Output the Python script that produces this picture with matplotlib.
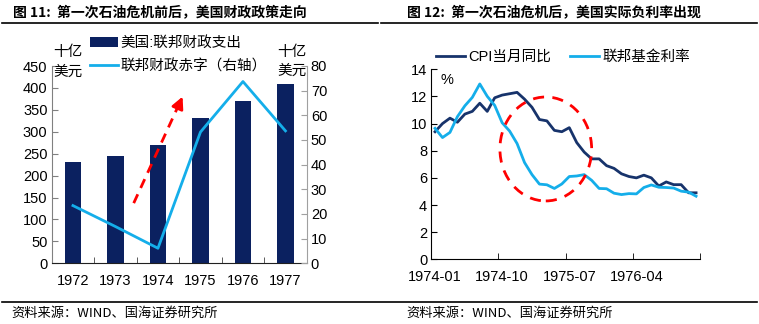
import numpy as np
import matplotlib
matplotlib.use('Agg')
import matplotlib.pyplot as plt
from matplotlib.patches import Ellipse
from matplotlib.lines import Line2D

plt.rcParams['font.family'] = ['Liberation Sans', 'Noto Sans CJK SC', 'DejaVu Sans']
plt.rcParams['axes.unicode_minus'] = False

# left panel data
years = ['1972', '1973', '1974', '1975', '1976', '1977']
spending = [230, 245, 269, 332, 371, 409]
deficit = [23.4, 14.9, 6.1, 53.2, 73.7, 53.7]

# right panel data, monthly 1974-01 .. 1976-12
months = [f'{y}-{m:02d}' for y in (1974, 1975, 1976) for m in range(1, 13)]
cpi = [9.4, 10.0, 10.4, 10.1, 10.7, 10.9, 11.5, 10.9, 11.9, 12.1, 12.2, 12.3,
       11.8, 11.2, 10.3, 10.2, 9.5, 9.4, 9.7, 8.6, 7.9, 7.4, 7.4, 6.9,
       6.7, 6.3, 6.1, 6.0, 6.2, 6.0, 5.4, 5.7, 5.5, 5.5, 4.9, 4.9]
fed_funds = [9.65, 8.97, 9.35, 10.51, 11.31, 11.93, 12.92, 12.01, 11.34, 10.06, 9.45, 8.53,
             7.13, 6.24, 5.54, 5.49, 5.22, 5.55, 6.10, 6.14, 6.24, 5.82, 5.22, 5.20,
             4.87, 4.77, 4.84, 4.82, 5.29, 5.48, 5.31, 5.29, 5.25, 5.02, 4.95, 4.65]

NAVY = '#0B2160'
CPI_COL = '#17336B'
LIGHT = '#14AEEA'
FS = 10.5

W, H = 759, 324
fig = plt.figure(figsize=(W / 100, H / 100), dpi=100)


def fx(px):
    return px / W


def fy(py):
    return 1 - py / H


# titles and rules
fig.text(fx(13), fy(12), '图 11:  第一次石油危机前后，美国财政政策走向', fontsize=10,
         fontweight='bold', va='center', ha='left', family=['Noto Sans CJK SC'])
fig.text(fx(407), fy(12), '图 12:  第一次石油危机后，美国实际负利率出现', fontsize=10,
         fontweight='bold', va='center', ha='left', family=['Noto Sans CJK SC'])
fig.add_artist(Line2D([fx(2), fx(378)], [fy(22.5), fy(22.5)], color='black', lw=1.2))
fig.add_artist(Line2D([fx(381), fx(757)], [fy(22.5), fy(22.5)], color='black', lw=1.2))
fig.add_artist(Line2D([fx(2), fx(757)], [fy(302), fy(302)], color='black', lw=1.2))
fig.text(fx(11), fy(313), '资料来源：WIND、国海证券研究所', fontsize=9.5, va='center',
         family=['Noto Sans CJK SC'])
fig.text(fx(406), fy(313), '资料来源：WIND、国海证券研究所', fontsize=9.5, va='center',
         family=['Noto Sans CJK SC'])

# ---- left panel ----
ax = fig.add_axes([fx(51.7), fy(263.3), fx(306.7 - 51.7), (263.3 - 66) / H])
x = np.arange(len(years))
bars = ax.bar(x, spending, width=0.39, color=NAVY, zorder=2)
ax.set_xlim(-0.5, 5.5)
ax.set_ylim(0, 450)
ax.set_yticks(range(0, 451, 50))
ax.set_xticks(x)
ax.set_xticklabels(years)
ax.set_xticks(np.arange(-0.5, 6, 1), minor=True)
ax.tick_params(axis='x', which='major', length=0, pad=8, labelsize=FS)
ax.tick_params(axis='x', which='minor', direction='in', length=4, color='#404040')
ax.tick_params(axis='y', direction='in', length=4, pad=3, labelsize=FS, color='#808080')
ax.spines['top'].set_visible(False)
ax.spines['right'].set_visible(False)
ax.spines['left'].set_color('#808080')
ax.spines['bottom'].set_color('#202020')

ax2 = ax.twinx()
line_def, = ax2.plot(x, deficit, color=LIGHT, lw=2)
ax2.set_ylim(0, 80)
ax2.set_yticks(range(0, 81, 10))
ax2.tick_params(axis='y', direction='in', length=4, pad=3, labelsize=FS, color='#A0A0A0')
for s in ('top', 'left', 'bottom'):
    ax2.spines[s].set_visible(False)
ax2.spines['right'].set_color('#A0A0A0')

# red dashed arrow
ax2.plot([1.43, 2.47], [24.4, 63.5], color='red', lw=2, ls=(0, (3.5, 2.5)))
ax2.annotate('', xy=(2.58, 67.6), xytext=(2.48, 63.7),
             arrowprops=dict(arrowstyle='-|>,head_length=0.7,head_width=0.35',
                             color='red', lw=2, shrinkA=0, shrinkB=0))

fig.text(fx(68), fy(52), '十亿', fontsize=FS, ha='center', va='center')
fig.text(fx(68), fy(72), '美元', fontsize=FS, ha='center', va='center')
fig.text(fx(292), fy(52), '十亿', fontsize=FS, ha='center', va='center')
fig.text(fx(292), fy(71), '美元', fontsize=FS, ha='center', va='center')

fig.legend([bars, line_def], ['美国:联邦财政支出', '联邦财政赤字（右轴）'],
           loc='upper left', bbox_to_anchor=(fx(90), fy(36)), frameon=False,
           fontsize=FS, handlelength=1.9, handletextpad=0.2, labelspacing=0.62,
           borderaxespad=0, borderpad=0)

# ---- right panel ----
bx = fig.add_axes([fx(431.3), fy(259.3), fx(699.8 - 431.3), 190 / H])
t = np.arange(len(months))
bx.plot(t, cpi, color=CPI_COL, lw=2, label='CPI当月同比')
bx.plot(t, fed_funds, color=LIGHT, lw=2, label='联邦基金利率')
bx.set_xlim(-0.5, 35.5)
bx.set_ylim(0, 14)
bx.set_yticks(range(0, 15, 2))
bx.set_xticks(t[::9])
bx.set_xticklabels([months[i] for i in t[::9]])
bx.set_xticks(np.arange(-0.5, 36, 9), minor=True)
bx.tick_params(axis='x', which='major', length=0, pad=8, labelsize=FS)
bx.tick_params(axis='x', which='minor', direction='in', length=4)
bx.tick_params(axis='y', direction='in', length=4, pad=3, labelsize=FS)
bx.spines['top'].set_visible(False)
bx.spines['right'].set_visible(False)
bx.text(0.8, 13.2, '%', fontsize=FS, ha='left', va='center')

bx.add_patch(Ellipse((14.85, 8.13), 12.3, 7.66, fill=False, edgecolor='red',
                     lw=2, ls=(0, (4, 3)), zorder=5))

bx.legend(loc='upper left', bbox_to_anchor=(fx(436), fy(50)),
          bbox_transform=fig.transFigure, ncol=2, frameon=False, fontsize=FS,
          handlelength=2.0, handletextpad=0.2, columnspacing=1.3,
          borderaxespad=0, borderpad=0)

fig.savefig('out.png', dpi=100)
